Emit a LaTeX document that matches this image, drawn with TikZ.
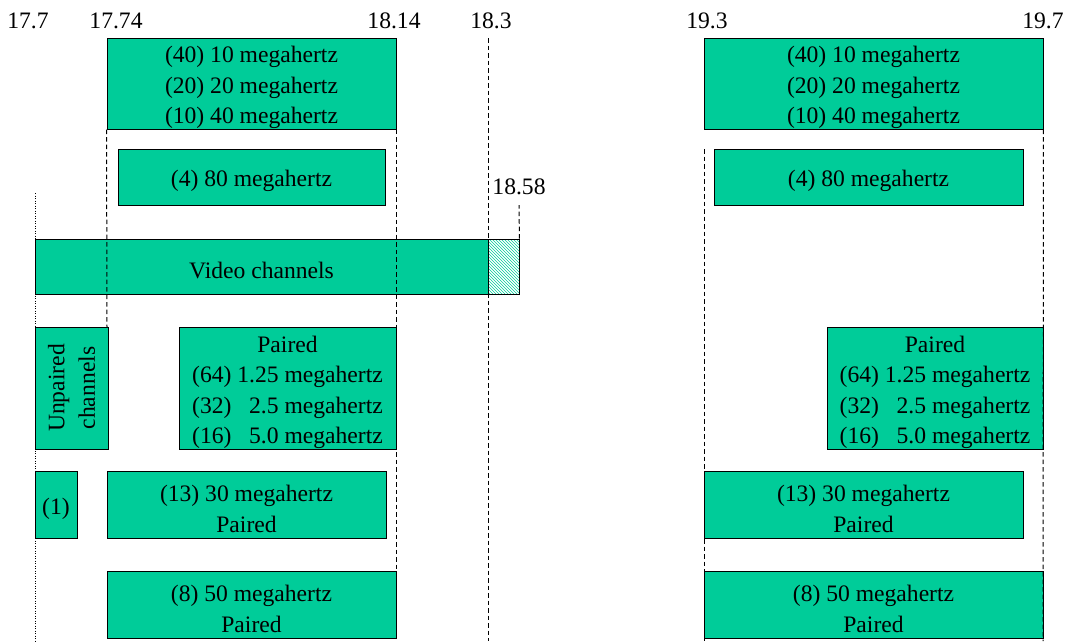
\documentclass[tikz,border=0pt]{standalone}
\usepackage{fontspec}
\setmainfont{Liberation Serif}
\usetikzlibrary{patterns}
\definecolor{bandgreen}{RGB}{0,204,153}
\newcommand{\bandlift}{\rule{0pt}{25pt}}

\begin{document}
\begin{tikzpicture}[
    x=1pt, y=-1pt,
    band/.style={draw, line width=0.9pt, fill=bandgreen, align=center, inner sep=0pt, font=\fontsize{23.6}{30.5}\selectfont},
    freqlabel/.style={anchor=base, inner sep=0pt, font=\fontsize{23.6}{28}\selectfont},
    guide/.style={dash pattern=on 4.5pt off 3pt, line width=1pt},
    edgeguide/.style={dash pattern=on 1pt off 1.5pt, line width=0.9pt}
]
\useasboundingbox (0,0) rectangle (1068,641);

% frequency marks
\node[freqlabel] (f177) at (28,28) {17.7};
\node[freqlabel] (f1774) at (116,28) {17.74};
\node[freqlabel] (f1814) at (394,28) {18.14};
\node[freqlabel] (f183) at (491,28) {18.3};
\node[freqlabel] (f1858) at (519,194) {18.58};
\node[freqlabel] (f193) at (707,28) {19.3};
\node[freqlabel] (f197) at (1043,28) {19.7};

% lower band
\node[band, minimum width=289pt, minimum height=89pt] (ltop) at (251.5,83.5) {\bandlift(40) 10 megahertz\\(20) 20 megahertz\\(10) 40 megahertz};
\node[band, minimum width=267pt, minimum height=56pt] (lwide) at (251.5,177) {\bandlift(4) 80 megahertz};
\node[band, minimum width=453pt, minimum height=55pt] (video) at (261.5,266.5) {\bandlift Video channels};
\node[draw, line width=0.9pt, pattern=north west lines, pattern color=bandgreen, inner sep=0pt, minimum width=31pt, minimum height=55pt] (videoext) at (503.5,266.5) {};
\node[band, rotate=90, minimum width=122pt, minimum height=73pt] (unpaired) at (71.5,388) {Unpaired\\channels};
\node[band, minimum width=217pt, minimum height=122pt] (lpaired) at (287.5,388) {\bandlift Paired\\(64) 1.25 megahertz\\(32)\phantom{1} 2.5 megahertz\\(16)\phantom{1} 5.0 megahertz};
\node[band, minimum width=42pt, minimum height=67pt] (single) at (56,504.5) {\bandlift(1)};
\node[band, minimum width=279pt, minimum height=67pt] (l30) at (246.5,504.5) {\bandlift(13) 30 megahertz\\Paired};
\node[band, minimum width=289pt, minimum height=67pt] (l50) at (251.5,604.5) {\bandlift(8) 50 megahertz\\Paired};

% upper band
\node[band, minimum width=339pt, minimum height=89pt] (rtop) at (873.5,83.5) {\bandlift(40) 10 megahertz\\(20) 20 megahertz\\(10) 40 megahertz};
\node[band, minimum width=309pt, minimum height=56pt] (rwide) at (868.5,177) {\bandlift(4) 80 megahertz};
\node[band, minimum width=216pt, minimum height=122pt] (rpaired) at (935,388) {\bandlift Paired\\(64) 1.25 megahertz\\(32)\phantom{1} 2.5 megahertz\\(16)\phantom{1} 5.0 megahertz};
\node[band, minimum width=319pt, minimum height=67pt] (r30) at (863.5,504.5) {\bandlift(13) 30 megahertz\\Paired};
\node[band, minimum width=339pt, minimum height=67pt] (r50) at (873.5,604.5) {\bandlift(8) 50 megahertz\\Paired};

% guide lines
\draw[edgeguide] (35,193) -- (35,641);
\draw[guide] (ltop.south west) -- (107,327);
\draw[guide] (ltop.south east) -- (l50.north east);
\draw[guide] (488,38) -- (488,641);
\draw[guide] (videoext.north east) -- (519,205);
\draw[guide] (704,149) -- (704,641);
\draw[guide] (rtop.south east) -- (1043,641);
\end{tikzpicture}
\end{document}
